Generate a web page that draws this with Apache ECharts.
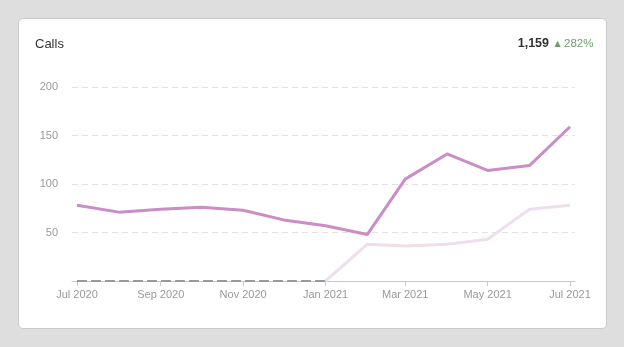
<!DOCTYPE html>
<html><head><meta charset="utf-8">
<script src="https://cdn.jsdelivr.net/npm/echarts@6/dist/echarts.min.js"></script>
<style>
html,body{margin:0;padding:0;width:624px;height:347px;background:#dedede;overflow:hidden;}
#card{position:absolute;left:18px;top:18px;width:587px;height:309px;background:#fff;border:1px solid #cacaca;border-radius:5px;}
#chart{position:absolute;left:0;top:0;width:624px;height:347px;}
</style></head>
<body>
<div id="card"></div>
<div id="chart"></div>
<script>
const months = ['2020-07-01','2020-08-01','2020-09-01','2020-10-01','2020-11-01','2020-12-01','2021-01-01','2021-02-01','2021-03-01','2021-04-01','2021-05-01','2021-06-01','2021-07-01'];
const calls = [78, 71, 74, 76, 73, 63, 57, 48, 105, 131, 114, 119, 159];
const prevCalls = [0, 0, 0, 0, 0, 0, 0, 38, 36, 38, 43, 74, 78];
const firstPrevIndex = 6; // previous period data starts here
const yTicks = [0, 50, 100, 150, 200];
const titleText = 'Calls';
const totalText = '1,159';
const changeText = '282%';

const t0 = new Date(months[0] + 'T00:00:00Z').getTime();
const t1 = new Date(months[months.length-1] + 'T00:00:00Z').getTime();

const ts = months.map(m => new Date(m + 'T00:00:00Z').getTime());
const mainData = ts.map((t,i) => [t, calls[i]]);
const zeroData = ts.slice(0, firstPrevIndex + 1).map((t,i) => [t, prevCalls[i]]);
const prevData = ts.slice(firstPrevIndex).map((t,i) => [t, prevCalls[firstPrevIndex + i]]);

const MON = ['Jan','Feb','Mar','Apr','May','Jun','Jul','Aug','Sep','Oct','Nov','Dec'];
const yAxisBase = {
  type: 'value', min: yTicks[0], max: yTicks[yTicks.length-1], interval: yTicks[1]-yTicks[0],
  axisLine: {show: false}, axisTick: {show: false}
};
const chart = echarts.init(document.getElementById('chart'), null, {renderer:'canvas'});
chart.setOption({
  backgroundColor: 'transparent',
  animation: false,
  textStyle: {fontFamily: 'Liberation Sans, Arial, sans-serif'},
  title: [
    {text: titleText, left: 30, top: 33, textStyle: {fontSize: 13, fontWeight: 'normal', color: '#333', fontFamily: 'Liberation Sans'}}
  ],
  graphic: [
    {type: 'text', x: 549, y: 44, style: {text: totalText, align: 'right', verticalAlign: 'middle',
      font: 'bold 12.5px "Liberation Sans"', fill: '#333'}},
    {type: 'text', x: 557.5, y: 43.5, style: {text: '▲', align: 'center', verticalAlign: 'middle',
      font: '8px "DejaVu Sans"', fill: '#6f9f6a'}},
    {type: 'text', x: 564, y: 44, style: {text: changeText, align: 'left', verticalAlign: 'middle',
      font: '11.5px "Liberation Sans"', fill: '#6f9f6a'}}
  ],
  grid: [
    {left: 72, right: 49, top: 87, bottom: 66, containLabel: false},
    {left: 77, right: 54, top: 87, bottom: 66, containLabel: false}
  ],
  xAxis: [
    {gridIndex: 0, type: 'value', min: 0, max: 1,
     axisLine: {show: true, lineStyle: {color: '#c8c8c8', width: 1}},
     axisTick: {show: false}, axisLabel: {show: false}, splitLine: {show: false}},
    {gridIndex: 1, type: 'time', min: t0, max: t1, splitNumber: 6,
     axisLine: {show: false},
     axisTick: {show: true, length: 5, lineStyle: {color: '#c8c8c8'}},
     splitLine: {show: false},
     axisLabel: {
       color: '#999', fontSize: 11, margin: 8, fontFamily: 'Liberation Sans',
       formatter: function (v) { const d = new Date(v); return MON[d.getUTCMonth()] + ' ' + d.getUTCFullYear(); },
       hideOverlap: false
     }}
  ],
  yAxis: [
    Object.assign({gridIndex: 0,
      splitLine: {show: true, lineStyle: {color: '#e2e2e2', type: [6, 4], width: 1}},
      axisLabel: {color: '#999', fontSize: 11, margin: 14, fontFamily: 'Liberation Sans',
        formatter: v => v === 0 ? '' : String(v)}}, yAxisBase),
    Object.assign({gridIndex: 1, splitLine: {show: false}, axisLabel: {show: false}}, yAxisBase)
  ],
  series: [
    {type: 'line', xAxisIndex: 1, yAxisIndex: 1, data: zeroData, showSymbol: false, symbol: 'none', z: 2,
     lineStyle: {color: '#999999', width: 2, type: [10, 4]}},
    {type: 'line', xAxisIndex: 1, yAxisIndex: 1, data: prevData, showSymbol: false, symbol: 'none', z: 3,
     lineStyle: {color: '#efdeeb', width: 3}},
    {type: 'line', xAxisIndex: 1, yAxisIndex: 1, data: mainData, showSymbol: false, symbol: 'none', z: 4,
     lineStyle: {color: '#ca8dc5', width: 3}}
  ]
});
</script>
</body></html>
